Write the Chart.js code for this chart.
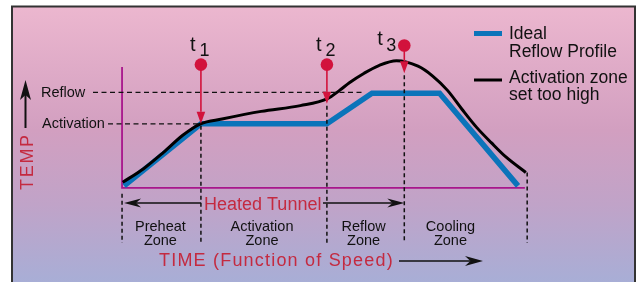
<!DOCTYPE html>
<html lang="en">
<head>
<meta charset="UTF-8">
<title>Reflow Profile</title>
<script src="https://cdn.jsdelivr.net/npm/chart.js"></script>
<style>
  html, body { margin: 0; padding: 0; background: #fff; overflow: hidden; }
  canvas { display: block; }
</style>
</head>
<body>
<canvas id="profileChart" width="639" height="282"></canvas>
<script>
// schematic values: time in seconds from tunnel entry, temperature in degC
const idealLabel = ['Ideal', 'Reflow Profile'];
const idealTime = [1.5, 58.6, 152.2, 185.7, 235.9, 294.2];
const idealTemp = [28.8, 152.3, 152.3, 213, 213, 28.8];

const highLabel = ['Activation zone', 'set too high'];
const highTime = [0.5, 16, 30.6, 45.1, 58.3, 74.3, 103.4, 132.5, 152.2, 161.6, 168.9, 179.9, 190.8, 203.9, 219.9, 230.8, 241.8, 252.7, 263.6, 274.5, 285.4, 300];
const highTemp = [36, 63, 95, 129.5, 152.3, 161.8, 177, 188.4, 201.7, 218.8, 234, 253, 268.2, 277.7, 266.9, 247.3, 218.8, 180.8, 144.7, 114.3, 85.8, 55.4];

// t1, t2, t3 markers
const markerNames = ['1', '2', '3'];
const markerTime = [58.6, 152.2, 209.7];
const markerTemp = [270, 270, 308];
const markerTipTemp = [152.3, 192, 253];

// temperature levels on the left
const levelNames = ['Reflow', 'Activation'];
const levelTemp = [215, 152.3];

// zones under the time axis
const zoneNames = [['Preheat', 'Zone'], ['Activation', 'Zone'], ['Reflow', 'Zone'], ['Cooling', 'Zone']];
const zoneLabelTime = [28.5, 104, 179.5, 244];
const tunnelStart = 0;
const tunnelEnd = 301;
const ambientTemp = 25;

const timeMin = -86, timeMax = 379.4;
const tempMin = -149.8, tempMax = 386;

const FONT = '"Liberation Sans", Arial, sans-serif';
const RED = '#d2123c';
const TEXT_RED = '#c42a40';
const PURPLE = '#a8168c';

function arrow(ctx, x1, y1, x2, y2, len, half, notch, color, width) {
    const a = Math.atan2(y2 - y1, x2 - x1);
    const c = Math.cos(a), s = Math.sin(a);
    ctx.save();
    ctx.strokeStyle = color;
    ctx.fillStyle = color;
    ctx.lineWidth = width;
    ctx.setLineDash([]);
    ctx.beginPath();
    ctx.moveTo(x1, y1);
    ctx.lineTo(x2 - c * len * notch, y2 - s * len * notch);
    ctx.stroke();
    ctx.beginPath();
    ctx.moveTo(x2, y2);
    ctx.lineTo(x2 - c * len - s * half, y2 - s * len + c * half);
    ctx.lineTo(x2 - c * len * notch, y2 - s * len * notch);
    ctx.lineTo(x2 - c * len + s * half, y2 - s * len - c * half);
    ctx.closePath();
    ctx.fill();
    ctx.restore();
}

function dashed(ctx, x1, y1, x2, y2, pattern, width) {
    ctx.save();
    ctx.strokeStyle = '#111';
    ctx.lineWidth = width;
    ctx.setLineDash(pattern);
    ctx.beginPath();
    ctx.moveTo(x1, y1);
    ctx.lineTo(x2, y2);
    ctx.stroke();
    ctx.restore();
}

function text(ctx, str, x, y, size, color, align, spacing) {
    ctx.save();
    ctx.font = size + 'px ' + FONT;
    ctx.fillStyle = color;
    ctx.textAlign = align || 'left';
    ctx.textBaseline = 'alphabetic';
    ctx.letterSpacing = (spacing || 0) + 'px';
    ctx.fillText(str, x, y);
    ctx.restore();
}

const diagramPlugin = {
    id: 'diagram',
    beforeDraw(chart) {
        const ctx = chart.ctx;
        // pink to lavender panel with frame
        const g = ctx.createLinearGradient(0, 6, 0, 282);
        g.addColorStop(0, '#ecb7cf');
        g.addColorStop(0.45, '#d29fc0');
        g.addColorStop(0.72, '#c0a3c8');
        g.addColorStop(1, '#a8aed6');
        ctx.save();
        ctx.fillStyle = g;
        ctx.fillRect(12, 6, 623, 290);
        ctx.strokeStyle = '#333';
        ctx.lineWidth = 2;
        ctx.beginPath();
        ctx.moveTo(12, 300);
        ctx.lineTo(12, 6.5);
        ctx.lineTo(635, 6.5);
        ctx.lineTo(635, 300);
        ctx.stroke();
        ctx.restore();
    },
    beforeDatasetsDraw(chart) {
        const ctx = chart.ctx;
        const x = chart.scales.x, y = chart.scales.y;
        const x0 = x.getPixelForValue(tunnelStart);
        const y0 = y.getPixelForValue(ambientTemp);
        ctx.save();
        ctx.strokeStyle = PURPLE;
        ctx.lineWidth = 1.8;
        ctx.beginPath();
        ctx.moveTo(x0, 67);
        ctx.lineTo(x0, y0);
        ctx.lineTo(x.getPixelForValue(299.3), y0);
        ctx.stroke();
        ctx.restore();
    },
    afterDatasetsDraw(chart) {
        const ctx = chart.ctx;
        const X = v => chart.scales.x.getPixelForValue(v);
        const Y = v => chart.scales.y.getPixelForValue(v);
        const yAxis = Y(ambientTemp);

        // level lines and labels
        dashed(ctx, 93, Y(levelTemp[0]), X(180), Y(levelTemp[0]), [5, 3.5], 1.2);
        dashed(ctx, 108, Y(levelTemp[1]), X(markerTime[0]), Y(levelTemp[1]), [5, 3.5], 1.2);
        text(ctx, levelNames[0], 41, Y(levelTemp[0]) + 4.5, 14.5, '#111');
        text(ctx, levelNames[1], 42, Y(levelTemp[1]) + 4.5, 14.5, '#111');

        // zone boundaries
        const bottom = 243;
        dashed(ctx, X(tunnelStart), yAxis + 6, X(tunnelStart), bottom, [4, 3], 1.5);
        markerTime.forEach((t, i) => {
            dashed(ctx, X(t), Y(markerTipTemp[i]) + 2, X(t), bottom, [4, 3], 1.5);
        });
        dashed(ctx, X(tunnelEnd), Y(highTemp[highTemp.length - 1]), X(tunnelEnd), bottom, [4, 3], 1.5);

        // t markers
        markerTime.forEach((t, i) => {
            const px = X(t), py = Y(markerTemp[i]);
            arrow(ctx, px, py, px, Y(markerTipTemp[i]), 12, 4.3, 1, RED, 1.6);
            if (i === 2) {
                text(ctx, 't', px - 27, py - 1, 20, '#111');
                text(ctx, markerNames[i], px - 18, py + 5, 18, '#111');
            } else {
                text(ctx, 't', px - 11, py - 14, 20, '#111');
                text(ctx, markerNames[i], px - 1.5, py - 9, 18, '#111');
            }
        });

        // heated tunnel arrows
        const ya = 203;
        arrow(ctx, X(markerTime[0]), ya, X(tunnelStart) + 2, ya, 17, 4.5, 0.7, '#111', 1.6);
        arrow(ctx, 323, ya, X(markerTime[2]), ya, 17, 4.5, 0.7, '#111', 1.6);
        text(ctx, 'Heated Tunnel', 204, 209.5, 18, TEXT_RED);

        zoneNames.forEach((z, i) => {
            text(ctx, z[0], X(zoneLabelTime[i]), 231, 14.5, '#111', 'center');
            text(ctx, z[1], X(zoneLabelTime[i]), 244.5, 14.5, '#111', 'center');
        });

        // axis titles
        text(ctx, 'TIME (Function of Speed)', 159, 266, 18, TEXT_RED, 'left', 1.2);
        arrow(ctx, 399, 261, 483, 261, 18, 5, 0.7, '#111', 1.6);

        ctx.save();
        ctx.translate(33, 190);
        ctx.rotate(-Math.PI / 2);
        text(ctx, 'TEMP', 0, 0, 18, TEXT_RED, 'left', 1.7);
        ctx.restore();
        arrow(ctx, 25.5, 128, 25.5, 80, 20, 5.5, 0.75, '#111', 2);

        // legend
        ctx.save();
        ctx.lineCap = 'butt';
        ctx.strokeStyle = '#0b74ba';
        ctx.lineWidth = 5;
        ctx.beginPath(); ctx.moveTo(474, 33.5); ctx.lineTo(502, 33.5); ctx.stroke();
        ctx.strokeStyle = '#000';
        ctx.lineWidth = 3;
        ctx.beginPath(); ctx.moveTo(474, 80); ctx.lineTo(502, 80); ctx.stroke();
        ctx.restore();
        text(ctx, idealLabel[0], 509, 38.5, 17.5, '#111');
        text(ctx, idealLabel[1], 509, 56.5, 17.5, '#111');
        text(ctx, highLabel[0], 509, 83, 17.5, '#111');
        text(ctx, highLabel[1], 509, 99.5, 17.5, '#111');
    }
};

const ctx = document.getElementById('profileChart').getContext('2d');
new Chart(ctx, {
    type: 'line',
    data: {
        datasets: [
            {
                label: 't markers',
                type: 'scatter',
                data: markerTime.map((t, i) => ({ x: t, y: markerTemp[i] })),
                pointRadius: 6.3,
                pointBackgroundColor: RED,
                pointBorderWidth: 0,
                showLine: false,
                order: 0
            },
            {
                label: highLabel.join(' '),
                data: highTime.map((t, i) => ({ x: t, y: highTemp[i] })),
                borderColor: '#000',
                borderWidth: 3,
                pointRadius: 0,
                cubicInterpolationMode: 'monotone',
                fill: false,
                order: 1
            },
            {
                label: idealLabel.join(' '),
                data: idealTime.map((t, i) => ({ x: t, y: idealTemp[i] })),
                borderColor: '#0b74ba',
                borderWidth: 5.5,
                borderCapStyle: 'butt',
                borderJoinStyle: 'miter',
                pointRadius: 0,
                tension: 0,
                fill: false,
                order: 2
            }
        ]
    },
    options: {
        responsive: false,
        animation: false,
        events: [],
        layout: { padding: 0 },
        plugins: {
            legend: { display: false },
            tooltip: { enabled: false }
        },
        scales: {
            x: { type: 'linear', display: false, min: timeMin, max: timeMax },
            y: { type: 'linear', display: false, min: tempMin, max: tempMax }
        }
    },
    plugins: [diagramPlugin]
});
</script>
</body>
</html>
